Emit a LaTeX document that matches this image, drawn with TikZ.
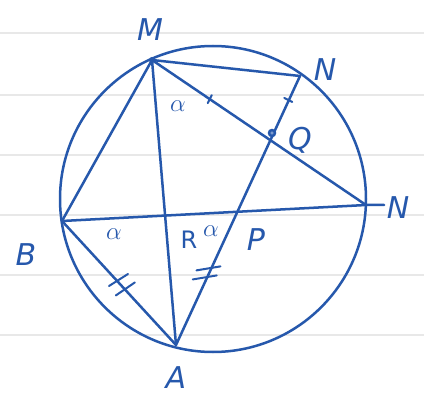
\documentclass[tikz,border=0pt]{standalone}
\usepackage{fontspec}
\setmainfont{DejaVu Sans}
\usetikzlibrary{calc}
\begin{document}
\begin{tikzpicture}[x=1pt,y=-1pt,
  ink/.style={draw=inkblue,line width=2.5pt,line cap=round,line join=round},
  tick/.style={draw=inkblue,line width=2pt,line cap=round},
  lbl/.style={text=inkblue,font=\fontsize{30}{30}\selectfont\itshape},
  slbl/.style={text=inkblue,font=\fontsize{24}{24}\selectfont},
  paper/.style={draw=gray!18,line width=1.2pt}]
\definecolor{inkblue}{RGB}{38,88,172}
\useasboundingbox (0,0) rectangle (424,396);
\fill[white] (0,0) rectangle (424,396);
% ruled lines
\foreach \yy in {33,95,155,215,275,335} \draw[paper] (0,\yy) -- (424,\yy);
% points
\coordinate (M) at (152,60);
\coordinate (N) at (300,76);
\coordinate (C) at (366,205);
\coordinate (B) at (62,221);
\coordinate (A) at (176,345);
\coordinate (Q) at (272,133);
\coordinate (O) at (213,199);
% circle
\draw[ink] (O) circle (153);
% chords
\draw[ink] (M) -- (N);
\draw[ink] (M) -- (C);
\draw[ink] (M) -- (B);
\draw[ink] (M) -- (A);
\draw[ink] (B) -- (C) -- (384,205);
\draw[ink] (B) -- (A);
\draw[ink] (N) -- (A);
% dot marks
\draw[ink,fill=inkblue!60] (Q) circle (3);
\fill[inkblue] (M) circle (3);
% tick marks
\draw[tick] ($(M)!0.27!(C)+(2,-4)$) -- ($(M)!0.27!(C)+(-2,4)$);
\draw[tick] ($(N)!0.42!(Q)+(-4,-2)$) -- ($(N)!0.42!(Q)+(4,2)$);
\draw[tick] ($(B)!0.5!(A)+(-10,3)$) -- ($(B)!0.5!(A)+(9,-9)$);
\draw[tick] ($(B)!0.56!(A)+(-10,5)$) -- ($(B)!0.56!(A)+(9,-8)$);
\draw[tick] ($(N)!0.73!(A)+(-13,-2)$) -- ($(N)!0.73!(A)+(11,-6)$);
\draw[tick] ($(N)!0.76!(A)+(-13,-1)$) -- ($(N)!0.76!(A)+(11,-5)$);
% labels
\node[lbl] (lM) at (150,30) {M};
\node[lbl] (lN) at (325,70) {N};
\node[lbl] (lQ) at (300,140) {Q};
\node[lbl] (lC) at (398,208) {N};
\node[lbl] (lB) at (26,255) {B};
\node[lbl] (lA) at (176,378) {A};
\node[slbl] (lR) at (189,240) {R};
\node[slbl] (la3) at (211,231) {$\alpha$};
\node[lbl] (lP) at (256,240) {P};
\node[slbl] (la1) at (178,106) {$\alpha$};
\node[slbl] (la2) at (114,234) {$\alpha$};
\end{tikzpicture}
\end{document}
